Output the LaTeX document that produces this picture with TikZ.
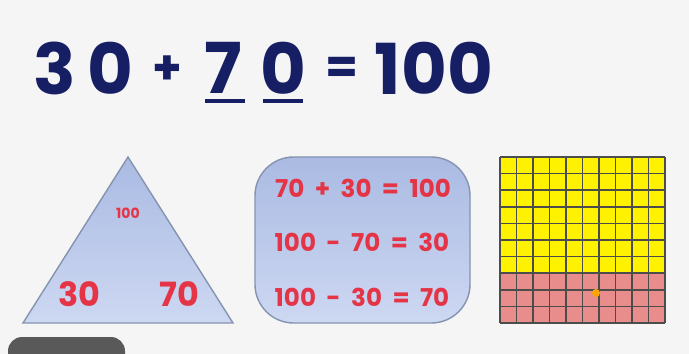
\documentclass[tikz,border=0pt]{standalone}
\usepackage{fontspec}
\usepackage{xcolor}
\usepackage{tikz}
\usetikzlibrary{positioning,backgrounds}
\newfontfamily\numfont{Poppins}
\pgfdeclarelayer{edgelayer}
\pgfdeclarelayer{nodelayer}
\pgfsetlayers{background,edgelayer,nodelayer,main}
\definecolor{navy}{RGB}{22,30,100}
\definecolor{sumred}{RGB}{228,52,70}
\definecolor{paleblue}{RGB}{205,216,242}
\definecolor{midblue}{RGB}{170,186,226}
\definecolor{edgeblue}{RGB}{132,148,176}
\definecolor{gridpink}{RGB}{232,140,140}
\tikzstyle{none}=[inner sep=0mm]
\tikzstyle{big}=[inner sep=0mm,text=navy,font=\numfont\bfseries\fontsize{40}{40}\selectfont]
\tikzstyle{sign}=[inner sep=0mm,text=navy,font=\numfont\bfseries\fontsize{27}{27}\selectfont]
\tikzstyle{rednum}=[inner sep=0mm,text=sumred,font=\numfont\bfseries\fontsize{19}{19}\selectfont]
\tikzstyle{redsmall}=[inner sep=0mm,text=sumred,font=\numfont\bfseries\fontsize{8}{8}\selectfont]
\tikzstyle{fact}=[inner sep=0mm,text=sumred,font=\numfont\bfseries\fontsize{14}{14}\selectfont]
\tikzstyle{underl}=[navy,line width=2.2pt]
\tikzstyle{panel}=[draw=edgeblue,line width=0.8pt,top color=midblue,bottom color=paleblue]
\begin{document}
\begin{tikzpicture}[x=0.02cm,y=-0.02cm]
	\begin{pgfonlayer}{background}
		\fill[white!96!black] (0,0) rectangle (689,354);
	\end{pgfonlayer}
	\useasboundingbox (0,0) rectangle (689,354);
	\begin{pgfonlayer}{nodelayer}
		\node [style=big] (d3) at (55, 68) {3};
		\node [style=big] (d0) at (110, 68) {0};
		\node [style=sign] (plus) at (167, 70) {+};
		\node [style=big] (d7) at (223, 68) {7};
		\node [style=big] (e0) at (283, 68) {0};
		\node [style=sign] (eq) at (342, 70) {=};
		\node [style=big] (hund) at (434, 68) {100};
		\node [style=redsmall] (top) at (128, 213) {100};
		\node [style=rednum] (left) at (79, 294) {30};
		\node [style=rednum] (right) at (179, 294) {70};
		\node [style=fact] (f1) at (363, 188) {70\ \ +\ \ 30\ \ =\ \ 100};
		\node [style=fact] (f2) at (362, 242) {100\ \ -\ \ 70\ \ =\ \ 30};
		\node [style=fact] (f3) at (362, 297) {100\ \ -\ \ 30\ \ =\ \ 70};
		\node [style=none] (u1a) at (205, 101) {};
		\node [style=none] (u1b) at (245, 101) {};
		\node [style=none] (u2a) at (263, 101) {};
		\node [style=none] (u2b) at (303, 101) {};
	\end{pgfonlayer}
	\begin{pgfonlayer}{edgelayer}
		\draw[underl] (u1a.center) -- (u1b.center);
		\draw[underl] (u2a.center) -- (u2b.center);
		% fact triangle
		\draw[panel] (128,157) -- (233,323) -- (23,323) -- cycle;
		% fact family box
		\draw[panel,rounded corners=22] (255,157) rectangle (470,323);
		% hundred square
		\fill[yellow] (500,157) rectangle (665,273);
		\fill[gridpink] (500,273) rectangle (665,323);
		\foreach \i in {0,...,10} {
			\draw[black!70,line width=0.9pt] (500+16.5*\i,157) -- (500+16.5*\i,323);
			\draw[black!70,line width=0.9pt] (500,157+16.6*\i) -- (665,157+16.6*\i);
		}
		\fill[orange!70!yellow] (596,293) circle (4);
		% badge
		\fill[black!65,rounded corners=8] (8,337) rectangle (125,375);
	\end{pgfonlayer}
\end{tikzpicture}
\end{document}
